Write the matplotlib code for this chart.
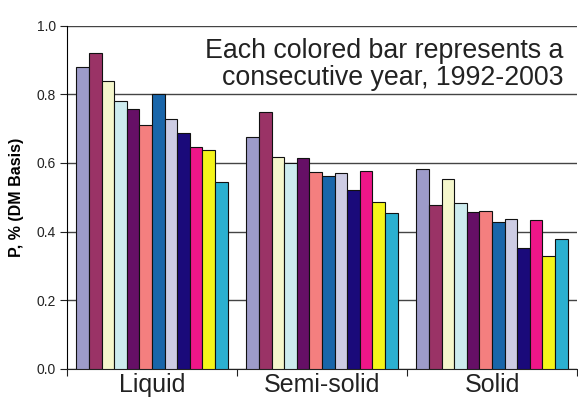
import numpy as np
import matplotlib.pyplot as plt

plt.rcParams['font.family'] = ['Liberation Sans', 'DejaVu Sans']

groups = ['Liquid', 'Semi-solid', 'Solid']
years = list(range(1992, 2004))
liquid = [0.880, 0.919, 0.838, 0.781, 0.756, 0.710, 0.801, 0.729, 0.686, 0.646, 0.637, 0.544]
semi_solid = [0.676, 0.749, 0.617, 0.601, 0.614, 0.573, 0.561, 0.570, 0.520, 0.576, 0.485, 0.453]
solid = [0.583, 0.477, 0.553, 0.484, 0.456, 0.459, 0.427, 0.438, 0.351, 0.433, 0.328, 0.378]
colors = ['#9D9BC9', '#9A3366', '#F5F7CC', '#CDECEF', '#660F66', '#F47F7F',
          '#1A66AA', '#CDCCE4', '#1A0A7A', '#EE1688', '#F5F51A', '#2BB0D0']

values = np.array([liquid, semi_solid, solid])

fig = plt.figure(figsize=(5.78, 4.04), dpi=100)
ax = fig.add_axes([67 / 578, 35 / 404, 510 / 578, 343.5 / 404])

n = len(years)
bw = 0.89 / n
x = np.arange(len(groups))
for i in range(n):
    ax.bar(x - 0.445 + bw * (i + 0.5), values[:, i], width=bw, color=colors[i],
           edgecolor='#111111', linewidth=0.8, zorder=3)

ax.set_xlim(-0.5, 2.5)
ax.set_ylim(0, 1.0)
ax.set_yticks(np.arange(0, 1.01, 0.2))
ax.set_yticklabels([f'{v:.1f}' for v in np.arange(0, 1.01, 0.2)], fontsize=10, color='#222222')
ax.yaxis.grid(True, color='#444444', linewidth=1, zorder=0)

# category labels between boundary ticks
ax.set_xticks([-0.5, 0.5, 1.5, 2.5])
ax.set_xticklabels([])
ax.set_xticks(x, minor=True)
ax.set_xticklabels(groups, minor=True, fontsize=18, color='#222222')
ax.tick_params(axis='x', which='minor', length=0, pad=3)
ax.tick_params(axis='x', which='major', length=5, direction='out', color='#222222')
ax.tick_params(axis='y', length=5, direction='out', color='#222222', pad=3)

for side in ['top', 'right']:
    ax.spines[side].set_visible(False)
ax.spines['left'].set_color('black')
ax.spines['bottom'].set_color('#222222')

ax.set_ylabel('P, % (DM Basis)', fontsize=11.5, fontweight='bold')
ax.yaxis.set_label_coords(-0.084, 0.5)

ax.text(0.973, 0.965, 'Each colored bar represents a\nconsecutive year, 1992-2003',
        transform=ax.transAxes, ha='right', va='top', fontsize=19.3,
        color='#222222', linespacing=1.05, zorder=4)

plt.savefig('out.png', dpi=100)
